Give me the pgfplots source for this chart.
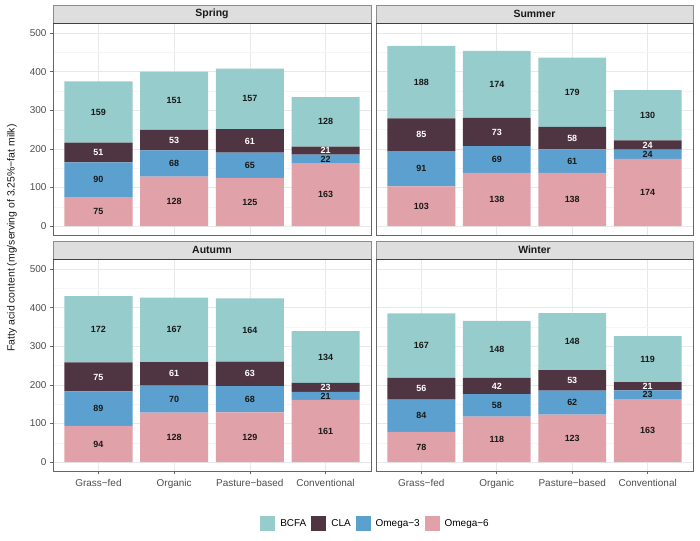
\documentclass[border=0pt]{standalone}
\usepackage{pgfplots}
\pgfplotsset{compat=1.18}
\usepackage{pgfplotstable}
\usepackage{fontspec}
\setmainfont{Liberation Sans}

\definecolor{bcfa}{HTML}{96CCCB}
\definecolor{cla}{HTML}{4F3541}
\definecolor{om3}{HTML}{5CA0CF}
\definecolor{om6}{HTML}{E0A2A8}
\definecolor{tickgray}{HTML}{4D4D4D}

\pgfplotstableread{
x O6 O3 CLA BCFA
1 75 90 51 159
2 128 68 53 151
3 125 65 61 157
4 163 22 21 128
}\spring
\pgfplotstableread{
x O6 O3 CLA BCFA
1 103 91 85 188
2 138 69 73 174
3 138 61 58 179
4 174 24 24 130
}\summer
\pgfplotstableread{
x O6 O3 CLA BCFA
1 94 89 75 172
2 128 70 61 167
3 129 68 63 164
4 161 21 23 134
}\autumn
\pgfplotstableread{
x O6 O3 CLA BCFA
1 78 84 56 167
2 118 58 42 148
3 123 62 53 148
4 163 23 21 119
}\winter

% label positions: middle of each stacked segment
\newcommand{\mids}[1]{%
  \pgfplotstablecreatecol[create col/expr={\thisrow{O6}/2}]{m6}{#1}%
  \pgfplotstablecreatecol[create col/expr={\thisrow{O6}+\thisrow{O3}/2}]{m3}{#1}%
  \pgfplotstablecreatecol[create col/expr={\thisrow{O6}+\thisrow{O3}+\thisrow{CLA}/2}]{mc}{#1}%
  \pgfplotstablecreatecol[create col/expr={\thisrow{O6}+\thisrow{O3}+\thisrow{CLA}+\thisrow{BCFA}/2}]{mb}{#1}%
}
\mids{\spring}\mids{\summer}\mids{\autumn}\mids{\winter}

\pgfplotsset{
 common/.style={scale only axis, height=212bp,
  xmin=0.4, xmax=4.6, ymin=-23, ymax=526, clip=false,
  /pgf/number format/assume math mode=true},
 facet/.style={common,
  ybar stacked, bar width=0.9,
  xtick={1,2,3,4}, ytick={0,100,...,500}, minor ytick={50,150,...,450},
  grid=both,
  major grid style={draw=black!9, line width=0.6bp},
  minor grid style={draw=black!4, line width=0.4bp},
  axis line style={draw=black!60, line width=0.7bp},
  tick align=outside, major tick length=3bp, minor tick length=0pt,
  tick style={draw=black!60, line width=0.7bp},
  xtick pos=bottom, ytick pos=left,
  ticklabel style={font=\fontsize{10}{12}\selectfont, text=tickgray},
  xticklabel style={yshift=-1.5bp},
 },
 labs/.style={common, hide axis},
 noxlab/.style={xticklabels={}, xtick style={draw=none}},
 noylab/.style={yticklabels={}, ytick style={draw=none}},
 lab/.style={draw=none, mark=none, forget plot,
   point meta=explicit, nodes near coords={\pgfmathprintnumber{\pgfplotspointmeta}},
   every node near coord/.append style={anchor=center, inner sep=0pt,
     font=\fontsize{9}{10}\selectfont\bfseries, text=#1}},
}

\newcommand{\bars}[1]{%
  \addplot[fill=om6, draw=none, forget plot] table[x=x,y=O6]{#1};
  \addplot[fill=om3, draw=none, forget plot] table[x=x,y=O3]{#1};
  \addplot[fill=cla, draw=none, forget plot] table[x=x,y=CLA]{#1};
  \addplot[fill=bcfa, draw=none, forget plot] table[x=x,y=BCFA]{#1};
}
\newcommand{\labels}[1]{%
  \addplot[lab=black!90] table[x=x,y=m6,meta=O6]{#1};
  \addplot[lab=black!90] table[x=x,y=m3,meta=O3]{#1};
  \addplot[lab=white] table[x=x,y=mc,meta=CLA]{#1};
  \addplot[lab=black!90] table[x=x,y=mb,meta=BCFA]{#1};
}

\begin{document}
\begin{tikzpicture}
\path[use as bounding box] (0,0) rectangle (700bp,541bp);

\begin{axis}[facet, width=318bp, at={(53bp,306bp)}, anchor=south west, noxlab]
\bars{\spring}
\end{axis}
\begin{axis}[labs, width=318bp, at={(53bp,306bp)}, anchor=south west]
\labels{\spring}
\end{axis}

\begin{axis}[facet, width=317bp, at={(376bp,306bp)}, anchor=south west, noxlab, noylab]
\bars{\summer}
\end{axis}
\begin{axis}[labs, width=317bp, at={(376bp,306bp)}, anchor=south west]
\labels{\summer}
\end{axis}

\begin{axis}[facet, width=318bp, at={(53bp,70bp)}, anchor=south west,
  xticklabels={Grass−fed,Organic,Pasture−based,Conventional},
  legend style={at={(1.0142,-0.2453)}, anchor=center, draw=none, fill=none,
    legend columns=4, font=\fontsize{10}{12}\selectfont,
    /tikz/every odd column/.append style={column sep=3bp},
    /tikz/every even column/.append style={column sep=3bp}},
  legend image code/.code={\fill[#1] (0bp,-7bp) rectangle (15bp,8bp);}]
\bars{\autumn}
\addlegendimage{fill=bcfa, draw=none}\addlegendentry{BCFA}
\addlegendimage{fill=cla, draw=none}\addlegendentry{CLA}
\addlegendimage{fill=om3, draw=none}\addlegendentry{Omega−3}
\addlegendimage{fill=om6, draw=none}\addlegendentry{Omega−6}
\end{axis}
\begin{axis}[labs, width=318bp, at={(53bp,70bp)}, anchor=south west]
\labels{\autumn}
\end{axis}

\begin{axis}[facet, width=317bp, at={(376bp,70bp)}, anchor=south west, noylab,
  xticklabels={Grass−fed,Organic,Pasture−based,Conventional}]
\bars{\winter}
\end{axis}
\begin{axis}[labs, width=317bp, at={(376bp,70bp)}, anchor=south west]
\labels{\winter}
\end{axis}

% facet strips
\foreach \xa/\xb/\ya/\lab in {53/371/518/Spring, 376/693/518/Summer, 53/371/282/Autumn, 376/693/282/Winter}{
  \fill[black!13] (\xa bp,\ya bp) rectangle (\xb bp,\ya bp+18bp);
  \draw[black!45, line width=0.6bp] (\xa bp,\ya bp) -- (\xa bp,\ya bp+18bp) -- (\xb bp,\ya bp+18bp) -- (\xb bp,\ya bp);
  \draw[black!75, line width=0.8bp] (\xa bp,\ya bp) -- (\xb bp,\ya bp);
  \node[font=\fontsize{10.5}{12}\selectfont\bfseries, text=black!90] at ({(\xa+\xb)/2*1bp},\ya bp+9bp) {\lab};
}

\node[rotate=90, font=\fontsize{10.5}{12}\selectfont, text=black!90] at (12bp,303bp) {Fatty acid content (mg/serving of 3.25\%−fat milk)};
\end{tikzpicture}
\end{document}
